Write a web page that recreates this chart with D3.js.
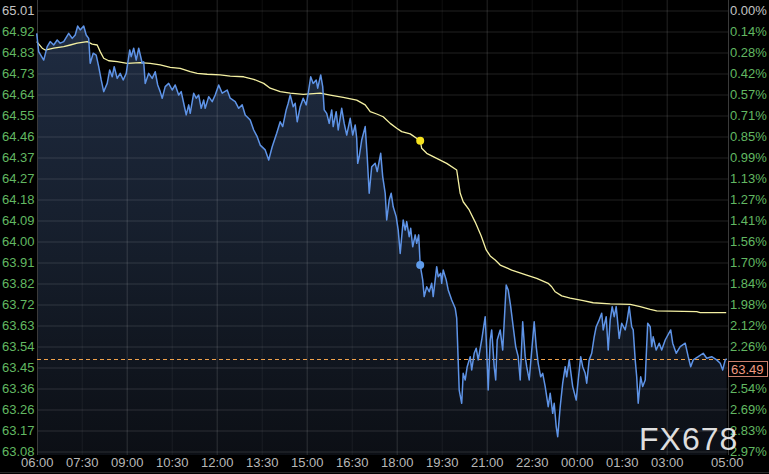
<!DOCTYPE html>
<html><head><meta charset="utf-8">
<script src="https://cdn.jsdelivr.net/npm/d3@7"></script>
<style>
html,body{margin:0;padding:0;background:#000;}
svg{display:block;}
</style></head><body>
<svg id="c" width="769" height="474"></svg>
<script>
// ---------- data ----------
const xTickLabels = ["06:00","07:30","09:00","10:30","12:00","13:30","15:00","16:30","18:00","19:30","21:00","22:30","00:00","01:30","03:00","05:00"];
const xTickMinutes = [0,90,180,270,360,450,540,630,720,810,900,990,1080,1170,1260,1380]; // minutes after 06:00
const yTickLabels = ["65.01","64.92","64.83","64.73","64.64","64.55","64.46","64.37","64.27","64.18","64.09","64.00","63.91","63.82","63.72","63.63","63.54","63.45","63.36","63.26","63.17","63.08"];
const pctTickLabels = ["0.00%","0.14%","0.28%","0.42%","0.57%","0.71%","0.85%","0.99%","1.13%","1.27%","1.41%","1.56%","1.70%","1.84%","1.98%","2.12%","2.26%","2.40%","2.54%","2.69%","2.83%","2.97%"];
const priceHigh = 65.01, priceLow = 63.08;
const lastPrice = 63.486;
const highlightMinute = 767;

// [minutes after 06:00, price]
const priceSeries = [
[0,64.910],[4,64.830],[14,64.793],[21,64.852],[27,64.874],[34,64.859],[41,64.881],[47,64.867],[54,64.874],[64,64.910],
[71,64.888],[77,64.903],[82,64.942],[87,64.925],[94,64.942],[99,64.903],[104,64.888],[107,64.779],[113,64.823],[119,64.815],
[124,64.764],[129,64.706],[134,64.655],[141,64.691],[146,64.750],[151,64.720],[155,64.764],[161,64.713],[167,64.735],[173,64.706],
[179,64.735],[182,64.779],[186,64.837],[189,64.808],[194,64.845],[199,64.793],[204,64.845],[211,64.779],[214,64.786],[217,64.691],
[224,64.735],[231,64.713],[237,64.742],[242,64.684],[247,64.655],[251,64.626],[257,64.677],[264,64.691],[271,64.662],[277,64.684],
[284,64.640],[289,64.655],[294,64.604],[299,64.553],[304,64.597],[307,64.560],[314,64.648],[319,64.626],[324,64.640],[329,64.582],
[334,64.618],[337,64.582],[344,64.633],[351,64.611],[357,64.640],[364,64.684],[371,64.648],[381,64.662],[387,64.626],[397,64.611],
[404,64.582],[411,64.597],[417,64.553],[427,64.531],[434,64.487],[441,64.458],[447,64.421],[457,64.400],[464,64.356],[471,64.414],
[480,64.473],[487,64.523],[492,64.502],[499,64.575],[503,64.604],[507,64.640],[513,64.589],[517,64.604],[521,64.523],[527,64.589],
[533,64.626],[539,64.597],[543,64.648],[548,64.720],[553,64.691],[559,64.706],[562,64.670],[568,64.728],[572,64.677],[575,64.575],
[580,64.560],[585,64.516],[590,64.575],[593,64.502],[599,64.567],[603,64.487],[610,64.582],[615,64.516],[620,64.465],[627,64.538],
[632,64.465],[637,64.509],[640,64.451],[642,64.341],[645,64.370],[650,64.443],[657,64.502],[661,64.370],[665,64.210],[670,64.326],
[677,64.341],[681,64.305],[688,64.385],[692,64.283],[697,64.210],[700,64.093],[705,64.181],[709,64.210],[713,64.151],[719,64.108],
[723,64.049],[727,63.947],[730,64.020],[733,64.093],[737,64.049],[740,64.086],[745,64.020],[748,64.057],[752,63.976],[757,64.028],
[760,63.991],[764,64.028],[767,63.896],[772,63.831],[775,63.758],[780,63.801],[785,63.779],[790,63.816],[793,63.758],[797,63.831],
[800,63.889],[803,63.845],[808,63.860],[810,63.816],[813,63.874],[819,63.831],[823,63.787],[830,63.743],[837,63.707],[840,63.664],
[842,63.539],[845,63.349],[850,63.291],[853,63.422],[857,63.393],[861,63.451],[867,63.495],[870,63.437],[875,63.510],[879,63.532],
[883,63.481],[890,63.568],[897,63.670],[900,63.524],[903,63.349],[907,63.568],[910,63.612],[915,63.451],[918,63.393],[921,63.568],
[927,63.612],[932,63.524],[939,63.809],[943,63.787],[948,63.714],[953,63.626],[958,63.539],[963,63.495],[967,63.393],[972,63.648],
[977,63.495],[980,63.451],[985,63.393],[989,63.495],[995,63.648],[999,63.539],[1003,63.466],[1008,63.407],[1012,63.422],[1017,63.364],
[1023,63.276],[1027,63.335],[1032,63.247],[1035,63.291],[1039,63.189],[1042,63.145],[1047,63.276],[1052,63.379],[1057,63.451],[1060,63.407],
[1065,63.481],[1072,63.364],[1079,63.305],[1083,63.393],[1088,63.495],[1092,63.451],[1097,63.422],[1100,63.379],[1105,63.481],[1110,63.510],
[1115,63.582],[1119,63.626],[1125,63.656],[1130,63.685],[1133,63.612],[1139,63.670],[1143,63.524],[1147,63.656],[1151,63.714],[1155,63.670],
[1159,63.714],[1165,63.575],[1170,63.641],[1177,63.612],[1181,63.656],[1185,63.714],[1190,63.626],[1193,63.612],[1197,63.481],[1200,63.407],
[1203,63.291],[1208,63.407],[1212,63.364],[1217,63.393],[1219,63.495],[1222,63.641],[1227,63.626],[1230,63.539],[1233,63.582],[1239,63.524],
[1245,63.554],[1250,63.524],[1257,63.568],[1268,63.612],[1272,63.554],[1279,63.510],[1287,63.539],[1297,63.554],[1303,63.495],[1308,63.451],
[1313,63.481],[1323,63.495],[1333,63.510],[1340,63.488],[1350,63.495],[1360,63.481],[1367,63.466],[1372,63.437],[1377,63.481],[1380,63.486]
];

// average price line [minutes after 06:00, price]
const avgSeries = [
[0,64.874],[11,64.845],[17,64.837],[34,64.845],[54,64.852],[67,64.859],[81,64.867],[101,64.874],[111,64.863],[121,64.859],
[127,64.830],[134,64.801],[144,64.790],[161,64.786],[181,64.779],[207,64.782],[227,64.779],[247,64.772],[267,64.761],[287,64.757],
[307,64.742],[321,64.735],[341,64.731],[367,64.728],[387,64.723],[414,64.720],[434,64.709],[454,64.691],[467,64.670],[487,64.655],
[507,64.648],[533,64.643],[567,64.648],[587,64.640],[613,64.630],[640,64.618],[657,64.597],[667,64.567],[680,64.557],[693,64.545],
[707,64.516],[720,64.495],[730,64.480],[747,64.470],[767,64.440],[770,64.407],[780,64.385],[800,64.363],[820,64.341],[840,64.312],
[847,64.210],[853,64.173],[865,64.137],[877,64.084],[889,64.023],[899,63.962],[907,63.936],[917,63.918],[927,63.896],[950,63.874],
[980,63.852],[1000,63.838],[1023,63.816],[1030,63.801],[1037,63.779],[1050,63.761],[1067,63.751],[1093,63.740],[1113,63.731],[1147,63.726],
[1187,63.724],[1207,63.714],[1227,63.702],[1240,63.695],[1320,63.692],[1327,63.688],[1379,63.688]
];

// ---------- layout ----------
const W = 769, H = 474;
const plotLeft = 37, plotRight = 728, plotTop = 0, plotBottom = 455;
const FONT = "'Liberation Sans', Arial, Helvetica, sans-serif";
const svg = d3.select('#c');

const x = d3.scaleLinear().domain([0, 1380]).range([36.7, 726.7]);
const y = d3.scaleLinear().domain([priceLow, priceHigh]).range([451.5, 10.5]);
const yStep = (priceHigh - priceLow) / (yTickLabels.length - 1);
const yTickValues = yTickLabels.map((_, i) => priceHigh - i * yStep);

svg.append('rect').attr('width', W).attr('height', H).attr('fill', '#000');

// gradient for area
const defs = svg.append('defs');
const grad = defs.append('linearGradient').attr('id', 'ag')
  .attr('gradientUnits', 'userSpaceOnUse').attr('x1', 0).attr('x2', 0).attr('y1', 20).attr('y2', plotBottom);
grad.append('stop').attr('offset', 0).attr('stop-color', '#1f2c42');
grad.append('stop').attr('offset', 0.55).attr('stop-color', '#151d2a');
grad.append('stop').attr('offset', 1).attr('stop-color', '#0c0f15');
defs.append('clipPath').attr('id', 'clip').append('rect')
  .attr('x', plotLeft).attr('y', plotTop).attr('width', plotRight - plotLeft).attr('height', plotBottom - plotTop);

// area under price
const area = d3.area().x(d => x(d[0])).y0(plotBottom).y1(d => y(d[1]));
svg.append('path').datum(priceSeries).attr('d', area).attr('fill', 'url(#ag)').attr('clip-path', 'url(#clip)');

// horizontal grid
const hGrid = svg.append('g').attr('transform', `translate(${plotLeft},0)`)
  .call(d3.axisLeft(y).tickValues(yTickValues).tickFormat('').tickSize(-(plotRight - plotLeft)));
hGrid.select('.domain').remove();
hGrid.selectAll('line').attr('stroke', 'rgba(255,255,255,0.13)').attr('stroke-width', 1);

// vertical grid
const gridMinutes = xTickMinutes.filter(m => m > 0 && m < 1380);
const vGrid = svg.append('g').attr('transform', `translate(0,${plotBottom})`)
  .call(d3.axisBottom(x).tickValues(gridMinutes).tickFormat('').tickSize(-(plotBottom - plotTop)));
vGrid.select('.domain').remove();
vGrid.selectAll('.tick line').attr('stroke', d => (d % 180 === 0) ? 'rgba(255,255,255,0.14)' : 'rgba(255,255,255,0.06)');

// plot borders
svg.append('line').attr('x1', plotLeft + 0.5).attr('x2', plotLeft + 0.5).attr('y1', 0).attr('y2', plotBottom).attr('stroke', '#3a3a3a');
svg.append('line').attr('x1', plotRight + 0.5).attr('x2', plotRight + 0.5).attr('y1', 0).attr('y2', plotBottom).attr('stroke', '#3a3a3a');
svg.append('line').attr('x1', 0).attr('x2', W).attr('y1', 472.5).attr('y2', 472.5).attr('stroke', '#262626');

// last price dashed line
const lastY = Math.round(y(lastPrice)) + 0.5;
svg.append('line').attr('x1', plotLeft).attr('x2', plotRight).attr('y1', lastY).attr('y2', lastY)
  .attr('stroke', '#f0a24c').attr('stroke-width', 1.1).attr('stroke-dasharray', '4,3');

// average line
const line = d3.line().x(d => x(d[0])).y(d => y(d[1]));
svg.append('path').datum(avgSeries).attr('d', line).attr('fill', 'none')
  .attr('stroke', '#f4f0a2').attr('stroke-width', 1.3).attr('stroke-linejoin', 'round');

// price line
svg.append('path').datum(priceSeries).attr('d', line).attr('fill', 'none')
  .attr('stroke', '#5e93e6').attr('stroke-width', 1.5).attr('stroke-linejoin', 'round');

// highlight dots
const hp = priceSeries.reduce((a, b) => Math.abs(b[0] - highlightMinute) < Math.abs(a[0] - highlightMinute) ? b : a);
const ha = avgSeries.reduce((a, b) => Math.abs(b[0] - highlightMinute) < Math.abs(a[0] - highlightMinute) ? b : a);
svg.append('circle').attr('cx', x(ha[0])).attr('cy', y(ha[1])).attr('r', 4).attr('fill', '#f6e21e');
svg.append('circle').attr('cx', x(hp[0])).attr('cy', y(hp[1])).attr('r', 4).attr('fill', '#5f9ceb');

// left axis labels
const leftAx = svg.append('g').attr('transform', 'translate(34.5,0)')
  .call(d3.axisLeft(y).tickValues(yTickValues).tickFormat((d, i) => yTickLabels[i]).tickSize(0).tickPadding(0));
leftAx.select('.domain').remove();
leftAx.selectAll('text').attr('font-family', FONT).attr('font-size', 13)
  .attr('fill', (d, i) => i === 0 ? '#c4c4c4' : '#62b862');

// last price tag geometry (the tag covers the right-axis label behind it)
const tagY = Math.round(y(lastPrice)) + 2;
const tagTop = tagY, tagBottom = tagY + 16;

// right axis labels (skip the one hidden behind the price tag)
const rightAx = svg.append('g').attr('transform', 'translate(730,0)')
  .call(d3.axisRight(y).tickValues(yTickValues).tickFormat((d, i) => pctTickLabels[i]).tickSize(0).tickPadding(0));
rightAx.select('.domain').remove();
rightAx.selectAll('.tick').filter(d => y(d) > tagTop - 4 && y(d) < tagBottom + 4).remove();
rightAx.selectAll('text').attr('font-family', FONT).attr('font-size', 13)
  .attr('fill', d => Math.abs(d - priceHigh) < 1e-9 ? '#c4c4c4' : '#62b862');

// bottom axis labels
const botAx = svg.append('g').attr('transform', 'translate(0,455)')
  .call(d3.axisBottom(x).tickValues(xTickMinutes).tickFormat((d, i) => xTickLabels[i]).tickSize(0).tickPadding(3));
botAx.select('.domain').remove();
botAx.selectAll('text').attr('font-family', FONT).attr('font-size', 13).attr('fill', '#b8b8b8');

// last price tag
svg.append('rect').attr('x', 728.5).attr('y', tagY + 0.5).attr('width', 39).attr('height', 15)
  .attr('fill', '#000').attr('stroke', '#c9806e').attr('stroke-width', 1);
svg.append('text').attr('x', 731).attr('y', tagY + 12.5).attr('font-family', FONT).attr('font-size', 13)
  .attr('fill', '#ee9a82').text(lastPrice.toFixed(2));

// watermark
svg.append('text').attr('x', 639).attr('y', 450).attr('font-family', FONT).attr('font-size', 32)
  .attr('letter-spacing', 1).attr('fill', '#ececec').attr('fill-opacity', 0.95).text('FX678');
</script>
</body></html>
